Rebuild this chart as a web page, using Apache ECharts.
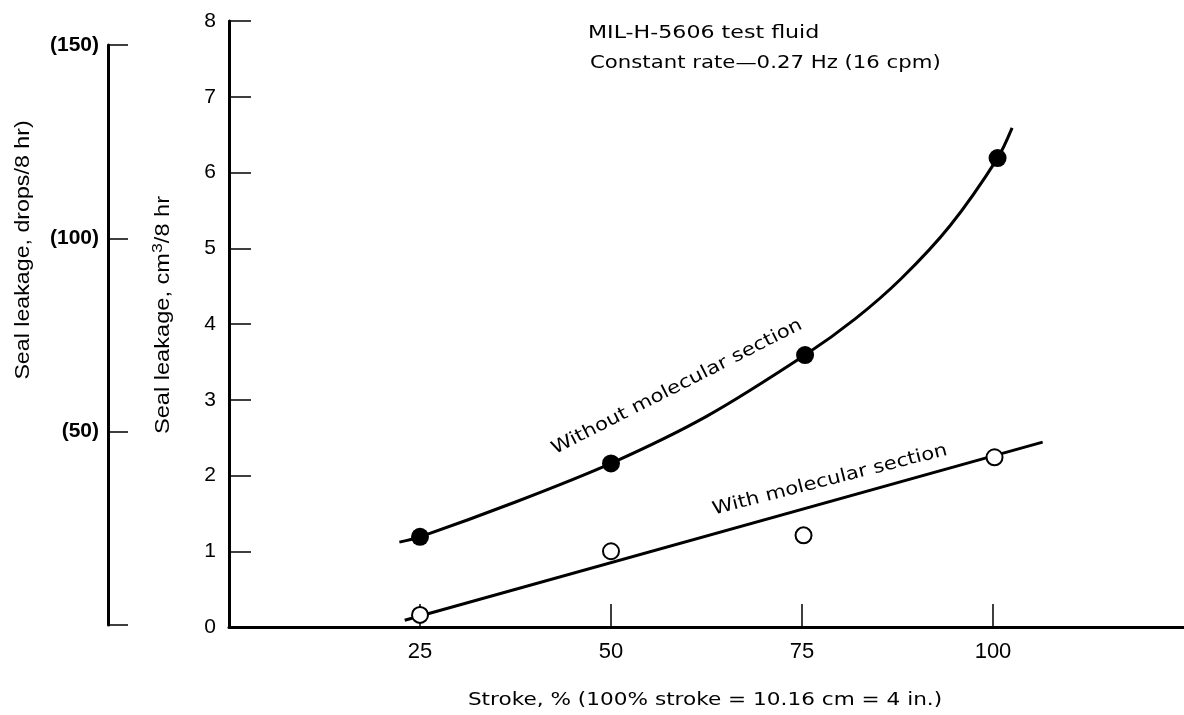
<!DOCTYPE html>
<html>
<head>
<meta charset="utf-8">
<script src="https://cdn.jsdelivr.net/npm/echarts@6/dist/echarts.min.js"></script>
<style>html,body{margin:0;padding:0;background:#fff}#c{width:1184px;height:715px}</style>
</head>
<body>
<div id="c"></div>
<script>
// Stroke ticks (%)
var xTicks = [25, 50, 75, 100];
// Measured points: without molecular section (filled)
var withoutPts = [[25, 1.19], [50, 2.16], [75.4, 3.59], [100.6, 6.19]];
// Measured points: with molecular section (open)
var withPts = [[25, 0.16], [50, 1.0], [75.2, 1.21], [100.2, 2.24]];
// Faired curve through "without" points
var withoutCurve = [[22.3, 1.12], [25, 1.19], [37.5, 1.65], [50, 2.16], [62.5, 2.78], [75.4, 3.59], [82, 4.07], [88, 4.60], [94.4, 5.30], [100.6, 6.19], [102.5, 6.59]];
// Straight fit for "with" points
var withLine = [[23.0, 0.09], [106.5, 2.44]];
// Secondary axis tick values (drops/8 hr)
var dropTicks = [0, 50, 100, 150];

var chart = echarts.init(document.getElementById('c'), null, {renderer: 'canvas'});
var black = '#000';
var labelFont = 'Liberation Sans';
var textFont = 'DejaVu Sans';

var option = {
  animation: false,
  backgroundColor: '#fff',
  grid: [
    {left: 229, right: 0, top: 21, bottom: 88},
    {left: 108, width: 40, top: 45, bottom: 90}
  ],
  xAxis: [
    {
      type: 'value', gridIndex: 0, min: 0, max: 125, interval: 25,
      axisLine: {show: true, onZero: false, lineStyle: {color: black, width: 3}},
      axisTick: {show: true, inside: true, length: 23, customValues: xTicks, lineStyle: {color: black, width: 1.5}},
      axisLabel: {
        margin: 14, color: black, fontFamily: labelFont, fontSize: 22, customValues: xTicks,
        formatter: function (v) { return xTicks.indexOf(v) >= 0 ? String(v) : ''; }
      },
      splitLine: {show: false}
    },
    {type: 'value', gridIndex: 1, min: 0, max: 1, show: false}
  ],
  yAxis: [
    {
      type: 'value', gridIndex: 0, min: 0, max: 8, interval: 1,
      axisLine: {show: true, lineStyle: {color: black, width: 3}},
      axisTick: {show: true, inside: true, length: 22, lineStyle: {color: black, width: 1.5}},
      axisLabel: {margin: 13, color: black, fontFamily: labelFont, fontSize: 21},
      splitLine: {show: false}
    },
    {
      type: 'value', gridIndex: 1, min: 0, max: 150, interval: 50,
      axisLine: {show: true, lineStyle: {color: black, width: 3}},
      axisTick: {show: true, inside: true, length: 20, lineStyle: {color: black, width: 1.5}},
      axisLabel: {
        margin: 9, color: black, fontFamily: labelFont, fontSize: 21, fontWeight: 'bold',
        formatter: function (v) { return dropTicks.indexOf(v) > 0 ? '(' + v + ')' : ''; }
      },
      splitLine: {show: false}
    }
  ],
  series: [
    {
      type: 'line', xAxisIndex: 0, yAxisIndex: 0, data: withoutCurve,
      smooth: 0.3, showSymbol: false, lineStyle: {color: black, width: 3}, z: 2
    },
    {
      type: 'line', xAxisIndex: 0, yAxisIndex: 0, data: withLine,
      showSymbol: false, lineStyle: {color: black, width: 3}, z: 2
    },
    {
      type: 'scatter', xAxisIndex: 0, yAxisIndex: 0, data: withoutPts,
      symbol: 'circle', symbolSize: 18, itemStyle: {color: black, opacity: 1}, z: 3
    },
    {
      type: 'scatter', xAxisIndex: 0, yAxisIndex: 0, data: withPts,
      symbol: 'circle', symbolSize: 16, itemStyle: {color: '#fff', borderColor: black, borderWidth: 2, opacity: 1}, z: 3
    }
  ],
  graphic: [
    {type: 'text', x: 588, y: 33, scaleX: 1.23, style: {text: 'MIL-H-5606 test fluid', font: '18px "' + textFont + '"', fill: black, textAlign: 'left', textVerticalAlign: 'middle'}},
    {type: 'text', x: 590, y: 63, scaleX: 1.18, style: {text: 'Constant rate\u20140.27 Hz (16 cpm)', font: '18px "' + textFont + '"', fill: black, textAlign: 'left', textVerticalAlign: 'middle'}},
    {type: 'text', x: 705, y: 700, scaleX: 1.2, style: {text: 'Stroke, % (100% stroke = 10.16 cm = 4 in.)', font: '18px "' + textFont + '"', fill: black, textAlign: 'center', textVerticalAlign: 'middle'}},
    {type: 'text', x: 23, y: 250, rotation: Math.PI / 2, scaleX: 1.16, style: {text: 'Seal leakage, drops/8 hr)', font: '20px "' + labelFont + '"', fill: black, textAlign: 'center', textVerticalAlign: 'middle'}},
    {type: 'text', x: 163, y: 315, rotation: Math.PI / 2, scaleX: 1.18, style: {rich: {n: {fontFamily: labelFont, fontSize: 20, fill: black}, s: {fontFamily: labelFont, fontSize: 15, fill: black, verticalAlign: 'top', padding: [0, 0, 10, 0]}}, text: '{n|Seal leakage, cm}{s|3}{n|/8 hr}', textAlign: 'center', textVerticalAlign: 'middle'}},
    {type: 'text', x: 677, y: 387, rotation: 0.47, scaleX: 1.18, style: {text: 'Without molecular section', font: '18px "' + textFont + '"', fill: black, textAlign: 'center', textVerticalAlign: 'middle'}},
    {type: 'text', x: 830, y: 480, rotation: 0.25, scaleX: 1.17, style: {text: 'With molecular section', font: '18px "' + textFont + '"', fill: black, textAlign: 'center', textVerticalAlign: 'middle'}}
  ]
};
chart.setOption(option);
</script>
</body>
</html>
